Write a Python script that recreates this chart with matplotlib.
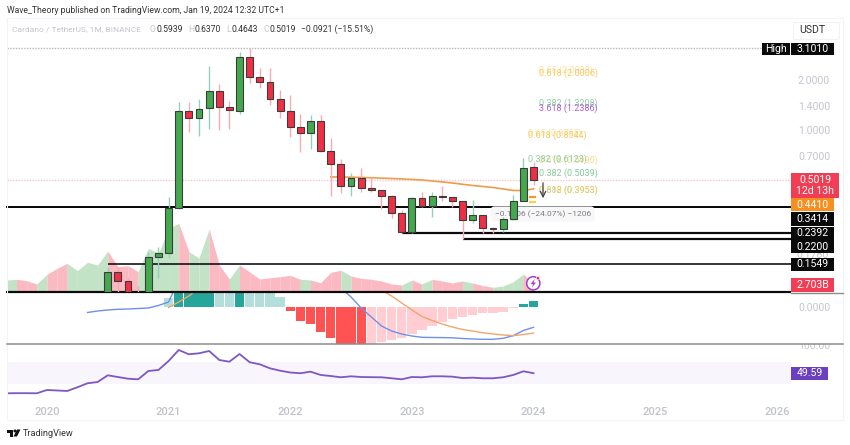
import numpy as np
import matplotlib
matplotlib.use('Agg')
import matplotlib.pyplot as plt
from matplotlib.patches import Rectangle, Circle, Polygon, FancyBboxPatch

plt.rcParams['font.family'] = ['Roboto', 'DejaVu Sans']

# months counted from Jan 2020
year_labels = ['2020', '2021', '2022', '2023', '2024', '2025', '2026']
year_months = [0, 12, 24, 36, 48, 60, 72]

# monthly candles, first one is month 6
candle_start = 6
candle_open = [.105, .139, .1228, .105, .095, .1714, .182, .340, 1.302, 1.186, 1.352, 1.719, 1.37, 1.307, 2.745, 2.088,
               1.94, 1.538, 1.297, 1.038, .955, 1.129, .75, .624, .459, .511, .445, .433, .402, .317, .2435, .387,
               .35, .4, .394, .3715, .285, .306, .255, .253, .292, .375, .5939]
candle_high = [.15, .149, .130, .1146, .1837, .197, .396, 1.475, 1.475, 1.538, 2.443, 1.886, 1.496, 2.943, 3.101, 2.356,
               2.356, 1.743, 1.626, 1.249, 1.232, 1.232, .899, .666, .553, .592, .518, .435, .405, .329, .396, .421,
               .424, .459, .396, .373, .378, .306, .261, .30, .405, .675, .637]
candle_low = [.10, .105, .10, .09, .09, .128, .169, .336, .977, .92, 1.014, 1.0, 1.018, 1.249, 1.913, 1.785,
              1.415, 1.176, .911, .74, .771, .733, .402, .419, .402, .424, .424, .332, .296, .239, .24, .345,
              .297, .375, .345, .22, .276, .239, .239, .2416, .285, .375, .4643]
candle_close = [.139, .1228, .105, .095, .1714, .181, .340, 1.302, 1.186, 1.339, 1.719, 1.382, 1.315, 2.745, 2.097, 1.948,
                1.545, 1.302, 1.047, .955, 1.129, .75, .626, .459, .511, .445, .433, .402, .317, .2435, .387, .35,
                .398, .396, .373, .2865, .306, .255, .254, .2905, .3715, .5875, .5019]

# 20 period average, first one is month 28
ma_start = 28
ma_values = [.5206, .5206, .5191, .517, .5148, .512, .5098, .5063, .5028, .4994, .4925, .4857, .479, .4704, .4626,
             .4562, .4499, .441, .4316, .4316, .441]

# support lines and where they start
support_levels = [.3414, .2392, .22, .1549, .105]
support_starts = [-4, 35, 41, 6, -4]
support_widths = [2, 2.2, 2.2, 1.6, 2.2]

# fib labels: text, level, month of the text, colour
fib_text = ['0.65 (2.0988)', '0.618 (2.0006)', '0.382 (1.3208)', '3.618 (1.2386)', '0.65 (0.8755)', '0.618 (0.8544)',
            '0.618 (0.5990)', '0.382 (0.6123)', '0.382 (0.5039)', '0.382 (0.3953)', '0.618 (0.3953)']
fib_levels = [2.0988, 2.0006, 1.3208, 1.2386, .8755, .8544, .5990, .6123, .5039, .3953, .3953]
fib_months = [48.5, 48.5, 48.5, 48.5, 47.5, 47.5, 48.5, 47.5, 48.5, 48.5, 48.5]
fib_colours = ['#fbe3a6', '#f8c95f', '#8fcfa3', '#ab62cf', '#fbe3a6', '#f8c95f', '#f8d98c', '#8fcfa3', '#84c998',
               '#b5dfc0', '#f8c95f']

# volume in billions, first one is month -4
vol_start = -4
volume = [4.63, 4.9, 4.36, 3.09, 6.83, 9.15, 11.08, 8.22, 11.46, 10.42, 15.83, 9.77, 10.15, 7.84, 16.87, 14.94, 24.59,
          26.52, 15.56, 13.12, 24.32, 10.42, 5.02, 10.42, 7.72, 5.02, 5.52, 5.91, 6.45, 4.9, 4.63, 3.59, 7.6, 8.38,
          6.18, 5.29, 4.9, 4.25, 3.09, 2.7, 4.63, 3.09, 4.9, 4.25, 3.47, 4.25, 3.47, 2.5, 1.81, 2.32, 3.98, 6.95, 2.703]
early_up = [True, False, False, True, False, False, True, True, True]

# MACD, histogram starts month 12
hist_start = 12
macd_hist = [.09, .30, .32, .34, .36, .28, .22, .25, .20, .18, .16, .103, -.037, -.137, -.173, -.253, -.313, -.373,
             -.39, -.40, -.38, -.347, -.33, -.307, -.273, -.23, -.187, -.147, -.123, -.103, -.08, -.063, -.057, -.047,
             -.013, .033, .057]
macd_start = 4
macd_line = [-.055, -.04, -.03, -.023, -.02, -.015, -.01, .015, .05, .27, .42, .52, .62, .67, .67, .72, .72, .67, .62,
             .57, .52, .45, .37, .32, .25, .19, .10, -.01, -.10, -.19, -.24, -.27, -.29, -.303, -.305, -.306, -.308,
             -.315, -.32, -.323, -.323, -.313, -.287, -.235, -.203]
signal_start = 12
signal_line = [-.005, .05, .11, .19, .27, .35, .42, .47, .52, .55, .57, .57, .55, .52, .49, .45, .41, .37, .32, .27,
               .22, .17, .11, .04, -.03, -.095, -.135, -.17, -.20, -.225, -.24, -.258, -.27, -.28, -.287, -.275, -.26]

# RSI, first one is month -4
rsi_start = -4
rsi = [13.1, 13.3, 13.3, 13.1, 19.1, 18.2, 17.3, 24.0, 31.3, 33.6, 45.8, 42.7, 39.6, 38.5, 53.6, 55.5, 71.8, 91.8, 84.0,
       85.8, 90.0, 73.6, 70.5, 84.5, 69.5, 65.8, 58.5, 54.2, 50.9, 49.5, 52.4, 46.4, 44.5, 42.2, 44.0, 42.7, 42.4, 42.2,
       40.4, 38.5, 42.7, 42.2, 44.0, 44.0, 43.3, 40.9, 41.5, 40.4, 40.4, 42.2, 46.4, 53.1, 49.59]

W, H = 850, 445
LEFT, RIGHT = 7, 791
XLIM = (-3.94, 73.4)


def pane(top, bottom):
    return [LEFT / W, 1 - bottom / H, (RIGHT - LEFT) / W, (bottom - top) / H]


fig = plt.figure(figsize=(W / 100, H / 100), dpi=100, facecolor='white')

vol_ax = fig.add_axes(pane(28, 292), zorder=0)
ax = fig.add_axes(pane(28, 292), zorder=2)
macd_ax = fig.add_axes(pane(292, 344), zorder=1)
rsi_ax = fig.add_axes(pane(344, 400), zorder=1)
ov = fig.add_axes([0, 0, 1, 1], zorder=5)
ov.set_xlim(0, W)
ov.set_ylim(H, 0)
ov.axis('off')
ov.patch.set_alpha(0)

for a in (vol_ax, ax, macd_ax, rsi_ax):
    a.set_xlim(*XLIM)
    for s in a.spines.values():
        s.set_visible(False)
    a.set_xticks([])
    a.yaxis.tick_right()
    a.tick_params(axis='y', length=0, pad=5, labelsize=7.6, labelcolor='#c3c6ce')
ax.patch.set_alpha(0)

# volume area
vol_x = np.arange(len(volume)) + vol_start
o = np.array(candle_open)
c = np.array(candle_close)
vol_up = early_up + list(c >= o)
for i in range(len(volume) - 1):
    col = '#c2e3c6' if vol_up[i] else '#fbb9c1'
    vol_ax.fill_between(vol_x[i:i + 2], volume[i:i + 2], 0, color=col, lw=0)
vol_ax.set_ylim(0, 101.9)
vol_ax.set_yticks([])

# price pane
ax.set_yscale('log')
ax.set_ylim(.1054, 4.12)
ax.set_yticks([2, 1.4, 1, .7])
ax.set_yticklabels(['2.0000', '1.4000', '1.0000', '0.7000'])
ax.minorticks_off()
ax.tick_params(axis='y', which='minor', length=0)

ax.hlines(candle_high[14], XLIM[0], 70.5, color='#b9b9b9', lw=1, ls=(0, (1, 1)), zorder=1)
ax.axhline(candle_close[-1], color='#f7c6cc', lw=1, ls=(0, (1, 1)), zorder=1)

for lvl, st, lw in zip(support_levels, support_starts, support_widths):
    ax.hlines(lvl, st, XLIM[1], color='#0b0b0b', lw=lw * .72, zorder=2, clip_on=False)

ax.text(48.9, .311, '\u22120.1206 (\u221224.07%) \u22121206', ha='center', va='center', fontsize=6, color='#7a7d85',
        zorder=3, bbox=dict(boxstyle='round,pad=0.46', fc='#f7f7f8', ec='none'))

ma_x = np.arange(len(ma_values)) + ma_start
ax.plot(ma_x, ma_values, color='#f09a4c', lw=1.2, zorder=4)

months = np.arange(len(candle_open)) + candle_start
up = c >= o
wick_col = ['#8fd3bf' if u else '#f6aab2' for u in up]
ax.vlines(months, candle_low, candle_high, colors=wick_col, lw=1, zorder=5)
body_low = np.minimum(o, c)
body_high = np.maximum(o, c)
ax.bar(months, body_high - body_low, bottom=body_low, width=.68, color=['#43a84e' if u else '#ee3045' for u in up],
       edgecolor='#3c3c3c', lw=.8, zorder=6)

for txt, lvl, mth, col in zip(fib_text, fib_levels, fib_months, fib_colours):
    ax.annotate(txt, xy=(mth, lvl), xytext=(0, 4.6), textcoords='offset points', ha='left', va='center',
                fontsize=6.5, color=col, zorder=7)
ax.hlines(.3953, 47.6, 48.2, color='#f09a2c', lw=1.6, zorder=7)
ax.hlines(.37, 47.6, 48.2, color='#f8d44a', lw=1.6, zorder=7)

# MACD pane
hist_x = np.arange(len(macd_hist)) + hist_start
hist_col = []
for i, v in enumerate(macd_hist):
    rising = i > 0 and v > macd_hist[i - 1]
    if v >= 0:
        hist_col.append('#26a69a' if rising else '#b2dfdb')
    else:
        hist_col.append('#ffcdd2' if rising else '#ff5252')
macd_ax.bar(hist_x, macd_hist, width=.92, color=hist_col, lw=0)
macd_ax.plot(np.arange(len(macd_line)) + macd_start, macd_line, color='#6f90e8', lw=1)
macd_ax.plot(np.arange(len(signal_line)) + signal_start, signal_line, color='#f3a46f', lw=1)
macd_ax.set_ylim(-.37, .15)
macd_ax.set_yticks([0])
macd_ax.set_yticklabels(['0.0000'])

# RSI pane
rsi_ax.axhspan(30, 70, color='#f8f5fc', lw=0)
rsi_ax.plot(np.arange(len(rsi)) + rsi_start, rsi, color='#7e57c2', lw=1.3)
rsi_ax.set_ylim(.9, 102.7)
rsi_ax.set_yticks([100])
rsi_ax.set_yticklabels(['100.00'])
rsi_ax.set_xticks(year_months)
rsi_ax.set_xticklabels(year_labels)
rsi_ax.tick_params(axis='x', length=0, pad=5, labelsize=8, labelcolor='#c0c3cb')
for t in rsi_ax.get_xticklabels():
    t.set_fontweight('medium')

# frame and separators
ov.add_patch(Rectangle((LEFT, 18), 836, 402, fc='none', ec='#f3f4f7', lw=.8))
ov.add_patch(Rectangle((792, 336), 51, 7.5, fc='white', ec='none'))
ov.plot([RIGHT, 843], [292.5, 292.5], color='#8d8d8d', lw=1, zorder=1)
ov.plot([LEFT, 843], [343.8, 343.8], color='#8d8d8d', lw=1.1)

# header
ov.text(LEFT, 10.5, 'Wave_Theory published on TradingView.com, Jan 19, 2024 12:32 UTC+1', fontsize=6.25,
        color='#333333', va='center')
ov.text(12, 29, 'Cardano / TetherUS, 1M, BINANCE', fontsize=6, color='#c2c5cc', va='center')
for x, s, col in [(150, 'O', '#c2c5cc'), (157, '0.5939', '#333333'), (188.5, 'H', '#c2c5cc'), (195, '0.6370', '#333333'),
                  (226.5, 'L', '#c2c5cc'), (231.5, '0.4643', '#333333'), (264, 'C', '#c2c5cc'),
                  (270, '0.5019', '#333333'), (301, '\u22120.0921 (\u221215.51%)', '#333333')]:
    ov.text(x, 29, s, fontsize=6.2, color=col, va='center')


def price_box(x0, x1, y0, y1, txt, fc, col='white', size=7.6):
    ov.add_patch(Rectangle((x0, y0), x1 - x0, y1 - y0, fc=fc, ec='none'))
    ov.text((x0 + x1) / 2, (y0 + y1) / 2, txt, ha='center', va='center', color=col, fontsize=size,
            linespacing=1.05)


ov.add_patch(FancyBboxPatch((795, 24), 43, 14, boxstyle='round,pad=1.5', fc='white', ec='#f1f2f5', lw=.8))
ov.text(812.5, 30, 'USDT', ha='center', va='center', fontsize=7.6, color='#333333')

price_box(762, 790, 43, 55, 'High', '#0a0a0a')
price_box(791, 834, 43, 55, '3.1010', '#0a0a0a')
ov.text(812.5, 255, '0.1780', ha='center', va='center', fontsize=7.6, color='#c3c6ce', zorder=1)
price_box(791, 839, 173, 198, '0.5019\n12d 13h', '#f23e54')
price_box(791, 834, 198, 211, '0.4410', '#f68f1f')
price_box(791, 834, 212, 226, '0.3414', '#0a0a0a')
price_box(791, 834, 227, 239.5, '0.2392', '#0a0a0a')
price_box(791, 834, 240, 253, '0.2200', '#0a0a0a')
price_box(791, 834, 257.7, 271, '0.1549', '#0a0a0a')
price_box(791, 834, 278, 292, '2.703B', '#f23e54')
price_box(791, 828, 366.5, 380, '49.59', '#6a3fc0')

# drawing on the chart
ov.annotate('', xy=(543, 201), xytext=(543, 180), arrowprops=dict(arrowstyle='->', color='#444444', lw=.9))
ov.add_patch(Circle((533.3, 283.3), 6.6, fc='white', ec='#a03fd0', lw=1.1))
ov.add_patch(Polygon([(534.8, 279), (530.6, 284), (533, 284), (531.8, 287.6), (536, 282.6), (533.6, 282.6)],
                     fc='#a03fd0', ec='none'))
ov.add_patch(Circle((538, 278.2), 1.7, fc='#f23645', ec='white', lw=.4))

# logo
ov.add_patch(Polygon([(7, 429.5), (13, 429.5), (13, 436.5), (10, 436.5), (10, 432.5), (7, 432.5)], fc='#111111', ec='none'))
ov.add_patch(Circle((15, 431), 1.5, fc='#111111', ec='none'))
ov.add_patch(Polygon([(17, 429.5), (20.5, 429.5), (17, 436.5), (13.5, 436.5)], fc='#111111', ec='none'))
ov.text(23, 433.2, 'TradingView', fontsize=6.6, color='#333333', va='center')

fig.savefig('out.png', dpi=100)
